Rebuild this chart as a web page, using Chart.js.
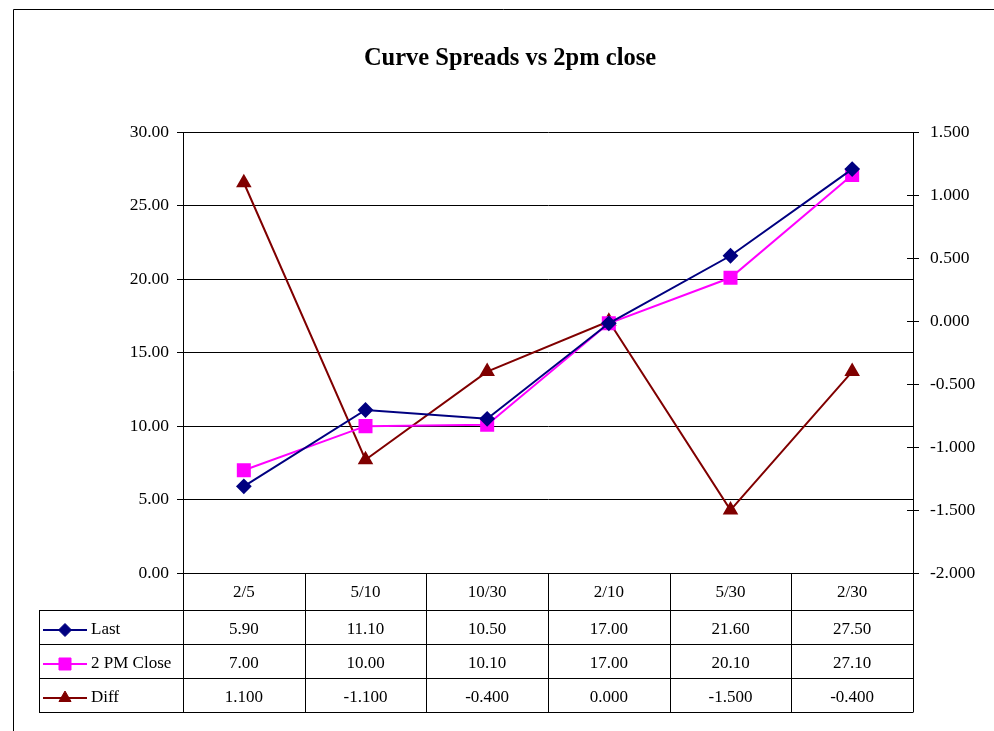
<!DOCTYPE html>
<html>
<head>
<meta charset="utf-8">
<script src="https://cdn.jsdelivr.net/npm/chart.js@4.4.1/dist/chart.umd.min.js"></script>
<style>
  html, body { margin: 0; padding: 0; background: #fff; }
  #wrap { width: 994px; height: 731px; position: relative; }
</style>
</head>
<body>
<div id="wrap"><canvas id="c" width="994" height="731"></canvas></div>
<script>
// Spread categories and readings
const categories = ['2/5', '5/10', '10/30', '2/10', '5/30', '2/30'];
const lastValues = [5.90, 11.10, 10.50, 17.00, 21.60, 27.50];
const closeValues = [7.00, 10.00, 10.10, 17.00, 20.10, 27.10];
const diffValues = [1.100, -1.100, -0.400, 0.000, -1.500, -0.400];
const leftTicks = [0, 5, 10, 15, 20, 25, 30];
const rightTicks = [-2.0, -1.5, -1.0, -0.5, 0.0, 0.5, 1.0, 1.5];

const SERIF = '"Liberation Serif", "Times New Roman", serif';

// Data table under the plot, aligned with the category columns
const dataTable = {
  id: 'dataTable',
  afterDraw(chart) {
    const ctx = chart.ctx;
    const area = chart.chartArea;
    const n = categories.length;
    const colW = (area.right - area.left) / n;
    const top = area.bottom;
    const headerH = 37;
    const rowH = 34;
    const legendLeft = 39;
    const rows = chart.data.datasets.map((ds, i) => ({
      ds, decimals: i === 2 ? 3 : 2
    }));
    const bottom = top + headerH + rowH * rows.length;

    ctx.save();
    ctx.strokeStyle = '#000';
    ctx.lineWidth = 1;
    ctx.beginPath();
    // horizontal rules
    ctx.moveTo(area.left, top + 0.5); ctx.lineTo(area.right, top + 0.5);
    for (let r = 0; r <= rows.length; r++) {
      const y = Math.round(top + headerH + rowH * r) + 0.5;
      ctx.moveTo(legendLeft, y); ctx.lineTo(area.right, y);
    }
    // vertical rules
    ctx.moveTo(legendLeft + 0.5, top + headerH); ctx.lineTo(legendLeft + 0.5, bottom + 0.5);
    for (let c = 0; c <= n; c++) {
      const x = Math.round(area.left + colW * c) + 0.5;
      ctx.moveTo(x, top); ctx.lineTo(x, bottom + 0.5);
    }
    ctx.stroke();

    ctx.fillStyle = '#000';
    ctx.font = '17px ' + SERIF;
    ctx.textAlign = 'center';
    ctx.textBaseline = 'middle';
    categories.forEach((cat, i) => {
      ctx.fillText(cat, area.left + colW * (i + 0.5), top + headerH / 2 + 1);
    });

    rows.forEach((row, r) => {
      const yMid = top + headerH + rowH * r + rowH / 2 + 3;
      const ds = row.ds;
      // legend key
      ctx.strokeStyle = ds.borderColor;
      ctx.lineWidth = 2;
      ctx.beginPath();
      ctx.moveTo(43, yMid); ctx.lineTo(87, yMid);
      ctx.stroke();
      ctx.fillStyle = ds.pointBackgroundColor;
      ctx.strokeStyle = ds.pointBorderColor;
      ctx.lineWidth = 1;
      Chart.helpers.drawPoint(ctx, {
        pointStyle: ds.pointStyle, radius: ds.pointRadius, rotation: 0, borderWidth: 1
      }, 65, yMid);
      ctx.fillStyle = '#000';
      ctx.textAlign = 'left';
      ctx.fillText(ds.label, 91, yMid);
      ctx.textAlign = 'center';
      ds.data.forEach((v, i) => {
        ctx.fillText(v.toFixed(row.decimals), area.left + colW * (i + 0.5), yMid);
      });
    });
    ctx.restore();
  }
};

// Frame lines and inward half of the right-axis tick marks
const frame = {
  id: 'frame',
  afterDraw(chart) {
    const ctx = chart.ctx;
    const y1 = chart.scales.y1;
    ctx.save();
    ctx.strokeStyle = '#000';
    ctx.lineWidth = 1;
    ctx.beginPath();
    ctx.moveTo(13.5, 731); ctx.lineTo(13.5, 9.5); ctx.lineTo(994, 9.5);
    y1.ticks.forEach(t => {
      const y = Math.round(y1.getPixelForValue(t.value)) + 0.5;
      ctx.moveTo(y1.left - 6, y); ctx.lineTo(y1.left, y);
    });
    ctx.stroke();
    ctx.restore();
  }
};

new Chart(document.getElementById('c'), {
  type: 'line',
  data: {
    labels: categories,
    datasets: [
      {
        label: 'Last', data: lastValues, yAxisID: 'y',
        borderColor: '#000080', backgroundColor: '#000080',
        pointBackgroundColor: '#000080', pointBorderColor: '#000080',
        pointStyle: 'rectRot', pointRadius: 6.5, borderWidth: 2, tension: 0
      },
      {
        label: '2 PM Close', data: closeValues, yAxisID: 'y',
        borderColor: '#FF00FF', backgroundColor: '#FF00FF',
        pointBackgroundColor: '#FF00FF', pointBorderColor: '#FF00FF',
        pointStyle: 'rect', pointRadius: 8.5, borderWidth: 2, tension: 0
      },
      {
        label: 'Diff', data: diffValues, yAxisID: 'y1',
        borderColor: '#800000', backgroundColor: '#800000',
        pointBackgroundColor: '#800000', pointBorderColor: '#800000',
        pointStyle: 'triangle', pointRadius: 7, borderWidth: 2, tension: 0
      }
    ]
  },
  options: {
    responsive: false,
    animation: false,
    layout: { padding: { left: 26, right: 0, top: 0, bottom: 158 } },
    plugins: {
      legend: { display: false },
      tooltip: { enabled: false },
      title: {
        display: true,
        text: 'Curve Spreads vs 2pm close',
        color: '#000',
        font: { family: SERIF, size: 24.5, weight: 'bold', lineHeight: 1.2 },
        padding: { top: 44, bottom: 59 }
      }
    },
    scales: {
      x: {
        display: false,
        offset: true
      },
      y: {
        position: 'left',
        min: 0, max: 30,
        afterFit(s) { s.width = 157; },
        afterBuildTicks(s) { s.ticks = leftTicks.map(v => ({ value: v })); },
        ticks: {
          color: '#000',
          padding: 8,
          font: { family: SERIF, size: 17.5 },
          callback: v => Number(v).toFixed(2)
        },
        grid: { color: '#000', lineWidth: 1, tickLength: 6, drawTicks: true },
        border: { display: true, color: '#000', width: 1 }
      },
      y1: {
        position: 'right',
        min: -2, max: 1.5,
        afterFit(s) { s.width = 81; },
        afterBuildTicks(s) { s.ticks = rightTicks.map(v => ({ value: v })); },
        ticks: {
          color: '#000',
          padding: 11,
          font: { family: SERIF, size: 17.5 },
          callback: v => Number(v).toFixed(3)
        },
        grid: { drawOnChartArea: false, color: '#000', tickLength: 6, drawTicks: true },
        border: { display: true, color: '#000', width: 1 }
      }
    }
  },
  plugins: [dataTable, frame]
});
</script>
</body>
</html>
